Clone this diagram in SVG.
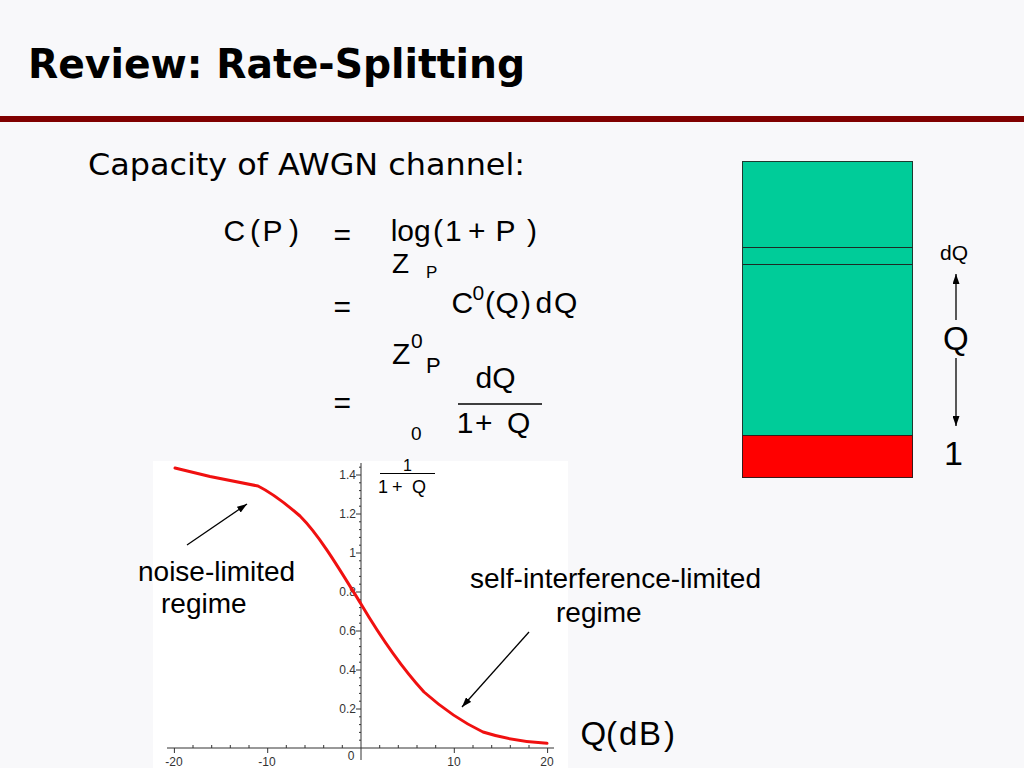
<svg xmlns="http://www.w3.org/2000/svg" width="1024" height="768" viewBox="0 0 1024 768">
<defs>
<style>
.math{font-family:"Liberation Sans",Arial,sans-serif;fill:#000;}
.comic{font-family:"Comic Sans MS","DejaVu Sans",sans-serif;fill:#000;}
.lbl{font-family:"Liberation Sans",Arial,sans-serif;font-size:28px;fill:#000;}
.tick{font-family:"Liberation Sans",Arial,sans-serif;font-size:12px;fill:#333;}
.ax{stroke:#333;stroke-width:1;fill:none;}
.arr{stroke:#000;stroke-width:1.3;fill:none;marker-end:url(#ah);}
</style>
<marker id="ah" viewBox="0 0 10 7" refX="10" refY="3.5" markerWidth="10" markerHeight="7" markerUnits="userSpaceOnUse" orient="auto">
<path d="M0,0 L10,3.5 L0,7 z" fill="#000"/>
</marker>
</defs>
<rect x="0" y="0" width="1024" height="768" fill="#F8F8FA"/>

<g id="title">
<text class="comic" x="28" y="78" font-size="40" font-weight="bold" textLength="497" lengthAdjust="spacingAndGlyphs">Review: Rate-Splitting</text>
<rect x="0" y="116" width="1024" height="6" fill="#800000"/>
</g>

<g id="subtitle">
<text class="comic" x="88" y="175" font-size="30" textLength="437" lengthAdjust="spacingAndGlyphs">Capacity of AWGN channel:</text>
</g>

<g id="formula">
<text class="math" font-size="30" y="241" x="223.5 250 262.6 289">C(P)</text>
<text class="math" font-size="30" x="333.5" y="245">=</text>
<text class="math" font-size="30" x="390.7" y="241">log</text>
<text class="math" font-size="30" y="241" x="433">(</text>
<text class="math" font-size="30" y="241" x="445">1</text>
<text class="math" font-size="30" y="241" x="468">+</text>
<text class="math" font-size="30" y="241" x="495.6">P</text>
<text class="math" font-size="30" y="241" x="527">)</text>
<text class="math" font-size="28" x="392" y="273">Z</text>
<text class="math" font-size="17" x="426" y="278">P</text>

<text class="math" font-size="30" x="333.5" y="317">=</text>
<text class="math" font-size="30" x="451.5" y="313">C</text>
<text class="math" font-size="21" x="472.5" y="300">0</text>
<text class="math" font-size="30" y="313" x="485 495.5 521 535.6 554">(Q)dQ</text>

<text class="math" font-size="30" x="392" y="364">Z</text>
<text class="math" font-size="21" x="411" y="348">0</text>
<text class="math" font-size="22" x="426" y="373">P</text>
<text class="math" font-size="30" x="333.5" y="413">=</text>
<text class="math" font-size="30" x="475.6" y="388">dQ</text>
<line x1="458" y1="404" x2="542" y2="404" stroke="#000" stroke-width="1.5"/>
<text class="math" font-size="30" y="433" x="456.7 475 507">1+Q</text>
<text class="math" font-size="19" x="411" y="440">0</text>
</g>

<g id="plot">
<rect x="153" y="461" width="415" height="307" fill="#FFFFFF"/>
<line class="ax" x1="167" y1="748" x2="554" y2="748"/>
<line class="ax" x1="361" y1="463" x2="361" y2="760"/>
<path class="ax" d="M174.4,748v5 M267.7,748v5 M454.3,748v5 M547.6,748v5 M193,748v-3 M211.7,748v-3 M230.3,748v-3 M249,748v-3 M286.3,748v-3 M305,748v-3 M323.7,748v-3 M342.3,748v-3 M379.7,748v-3 M398.3,748v-3 M417,748v-3 M435.7,748v-3 M473,748v-3 M491.7,748v-3 M510.3,748v-3 M529,748v-3"/>
<path class="ax" d="M361,475h-5 M361,514h-5 M361,553h-5 M361,592h-5 M361,631h-5 M361,670h-5 M361,709h-5 M361,467.2h-2 M361,482.8h-2 M361,490.6h-2 M361,498.4h-2 M361,506.2h-2 M361,521.8h-2 M361,529.6h-2 M361,537.4h-2 M361,545.2h-2 M361,560.8h-2 M361,568.6h-2 M361,576.4h-2 M361,584.2h-2 M361,599.8h-2 M361,607.6h-2 M361,615.4h-2 M361,623.2h-2 M361,638.8h-2 M361,646.6h-2 M361,654.4h-2 M361,662.2h-2 M361,677.8h-2 M361,685.6h-2 M361,693.4h-2 M361,701.2h-2 M361,716.8h-2 M361,724.6h-2 M361,732.4h-2 M361,740.2h-2"/>
<g text-anchor="end">
<text class="tick" x="356" y="479">1.4</text>
<text class="tick" x="356" y="518">1.2</text>
<text class="tick" x="356" y="557">1</text>
<text class="tick" x="356" y="596">0.8</text>
<text class="tick" x="356" y="635">0.6</text>
<text class="tick" x="356" y="674">0.4</text>
<text class="tick" x="356" y="713">0.2</text>
</g>
<g text-anchor="middle">
<text class="tick" x="351" y="760">0</text>
<text class="tick" x="174" y="766">-20</text>
<text class="tick" x="267" y="766">-10</text>
<text class="tick" x="454" y="766">10</text>
<text class="tick" x="547" y="766">20</text>
</g>
<path fill="none" stroke="#F01010" stroke-width="3" stroke-linejoin="round" stroke-linecap="round" d="M175,468 L210,476.5 L258,486 C270,492 285,503 300,516 C320,536 340,570 361,604 C380,636 402,668 424,692 C442,708 462,722 483,732 C505,739 525,742 547,743.3"/>
<text class="math" font-size="16" x="403" y="471">1</text>
<line x1="380" y1="473.5" x2="435" y2="473.5" stroke="#000" stroke-width="1.2"/>
<text class="math" font-size="18" y="493" x="378 392 412">1+Q</text>
</g>

<g id="bar">
<rect x="742.5" y="161.5" width="170" height="274" fill="#00CC99" stroke="#1E3A30" stroke-width="1"/>
<line x1="742.5" y1="247.5" x2="912.5" y2="247.5" stroke="#1E2A25" stroke-width="1"/>
<line x1="742.5" y1="264.5" x2="912.5" y2="264.5" stroke="#1E2A25" stroke-width="1"/>
<rect x="742.5" y="435.5" width="170" height="42" fill="#FF0000" stroke="#3A1A1A" stroke-width="1"/>
<text class="math" font-size="21" x="940" y="260">dQ</text>
<text class="math" font-size="33" x="943" y="350">Q</text>
<text class="math" font-size="34" x="944" y="465">1</text>
</g>

<g id="labels">
<text class="lbl" x="138" y="581">noise-limited</text>
<text class="lbl" x="161" y="613">regime</text>
<text class="lbl" x="470" y="588">self-interference-limited</text>
<text class="lbl" x="556" y="622">regime</text>
<text class="math" font-size="33" y="745" x="580.4 606 619 639 664">Q(dB)</text>
</g>

<g id="connectors">
<line class="arr" x1="187" y1="545" x2="247" y2="504"/>
<line class="arr" x1="529" y1="632" x2="462" y2="707"/>
<line class="arr" x1="956" y1="320" x2="956" y2="274"/>
<line class="arr" x1="956" y1="358" x2="956" y2="426"/>
</g>
</svg>
